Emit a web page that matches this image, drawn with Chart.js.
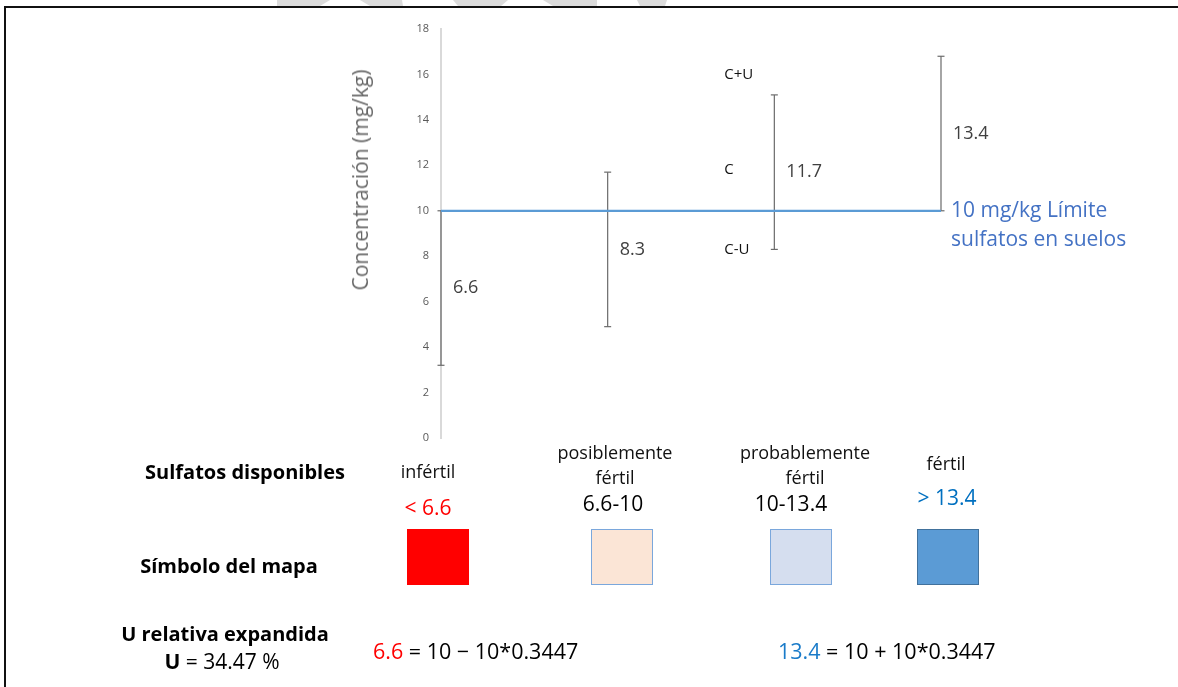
<!DOCTYPE html>
<html>
<head>
<meta charset="utf-8">
<script src="https://cdn.jsdelivr.net/npm/chart.js@4.4.1/dist/chart.umd.min.js"></script>
<style>
  body { margin: 0; background: #fff; font-family: "Open Sans", sans-serif; }
  #hoja { position: relative; width: 1178px; height: 687px; overflow: hidden; }
  #grafico { position: absolute; left: 0; top: 0; }
  #marco { position: absolute; left: 4px; top: 6px; width: 1200px; height: 700px;
           border-top: 2px solid #111; border-left: 2px solid #111; }
  .t { position: absolute; transform: translate(-50%, -50%); white-space: nowrap;
       text-align: center; color: #000; line-height: 25px; }
  .b { font-weight: 700; font-size: 20px; }
  .cat { font-size: 18px; color: #111; }
  .rng { font-size: 21px; }
  .sq { position: absolute; width: 62px; height: 56px; box-sizing: border-box; }
  .f { position: absolute; transform: translateY(-50%); font-size: 21.5px; white-space: nowrap; }
  #tituloY { position: absolute; left: 360px; top: 180px; transform: translate(-50%, -50%) rotate(-90deg);
             font-size: 21px; color: #666; white-space: nowrap; }
</style>
</head>
<body>
<div id="hoja">
  <svg width="1178" height="8" style="position:absolute;left:0;top:0">
    <polygon points="277,0 330,0 320,6 277,6" fill="#dcdcdc"/>
    <polygon points="360,0 402,0 403,6 370,6" fill="#dcdcdc"/>
    <polygon points="453,0 508,0 501,6 458,6" fill="#dcdcdc"/>
    <polygon points="543,0 597,0 597,6 553,6" fill="#dcdcdc"/>
    <polygon points="637,0 667,0 665,6 640,6" fill="#dcdcdc"/>
  </svg>
  <div id="marco"></div>
  <canvas id="grafico" width="1178" height="687"></canvas>
  <div id="tituloY">Concentración (mg/kg)</div>
  <div id="tabla"></div>
</div>
<script>
// datos
const categorias = ['infértil', 'posiblemente<br>fértil', 'probablemente<br>fértil', 'fértil'];
const rangos = ['< 6.6', '6.6-10', '10-13.4', '> 13.4'];
const concentracion = [6.6, 8.3, 11.7, 13.4];
const limiteInferior = [3.2, 4.9, 8.3, 10.0];
const limiteSuperior = [10.0, 11.7, 15.1, 16.8];
const limite = 10;
const ticksY = [0, 2, 4, 6, 8, 10, 12, 14, 16, 18];
const etiquetasCU = ['C+U', 'C', 'C-U'];
const valoresCU = [16, 11.8, 8.3];
const posicionCU = 1.7;

// estilo de la tabla inferior
const xCat = [428, 615, 805, 946];
const yCat = [471, 465, 465, 463];
const xRango = [428, 613, 791, 947];
const yRango = [507, 503, 503, 497];
const colorRango = ['#ff0000', '#000', '#000', '#0070c0'];
const xCuadro = [407, 591, 770, 917];
const rellenoCuadro = ['#ff0000', '#fbe5d6', '#d5deef', '#5b9bd5'];
const bordeCuadro = ['#ff0000', '#7aa7dc', '#7aa7dc', '#41719c'];

let html = '';
html += '<div class="t b" style="left:245px;top:471px">Sulfatos disponibles</div>';
html += '<div class="t b" style="left:229px;top:565px">Símbolo del mapa</div>';
html += '<div class="t b" style="left:225px;top:633px">U relativa expandida</div>';
html += '<div class="t" style="left:222px;top:661px;font-size:21px"><b>U</b> = 34.47 %</div>';
categorias.forEach((c, i) => {
  html += `<div class="t cat" style="left:${xCat[i]}px;top:${yCat[i]}px">${c}</div>`;
  html += `<div class="t rng" style="left:${xRango[i]}px;top:${yRango[i]}px;color:${colorRango[i]}">${rangos[i].replace('<', '&lt;')}</div>`;
  html += `<div class="sq" style="left:${xCuadro[i]}px;top:529px;background:${rellenoCuadro[i]};border:1.5px solid ${bordeCuadro[i]}"></div>`;
});
html += '<div class="f" style="left:373px;top:650px"><span style="color:#ff0000">6.6</span> = 10 − 10*0.3447</div>';
html += '<div class="f" style="left:778px;top:650px"><span style="color:#1a7bc9">13.4</span> = 10 + 10*0.3447</div>';
document.getElementById('tabla').innerHTML = html;

// barras de error: un tramo por categoria, separados con null
const barras = [];
concentracion.forEach((c, i) => {
  barras.push({ x: i, y: limiteInferior[i] }, { x: i, y: limiteSuperior[i] }, { x: i, y: null });
});

const etiquetas = {
  id: 'etiquetas',
  afterDatasetsDraw(chart) {
    const ctx = chart.ctx;
    const xs = chart.scales.x, ys = chart.scales.y;
    ctx.save();
    ctx.textBaseline = 'middle';
    ctx.textAlign = 'left';
    ctx.font = '18px "Open Sans"';
    ctx.fillStyle = '#404040';
    concentracion.forEach((c, i) => {
      ctx.fillText(String(c), xs.getPixelForValue(i) + 12, ys.getPixelForValue(c));
    });
    ctx.font = '15px "Open Sans"';
    ctx.fillStyle = '#111';
    etiquetasCU.forEach((t, i) => {
      ctx.fillText(t, xs.getPixelForValue(posicionCU), ys.getPixelForValue(valoresCU[i]));
    });
    ctx.font = '21px "Open Sans"';
    ctx.fillStyle = '#4472c4';
    const xl = xs.getPixelForValue(categorias.length - 1) + 10;
    const yl = ys.getPixelForValue(limite);
    ctx.fillText(limite + ' mg/kg Límite', xl, yl);
    ctx.fillText('sulfatos en suelos', xl, yl + 29);
    ctx.restore();
  }
};

new Chart(document.getElementById('grafico'), {
  type: 'scatter',
  data: {
    datasets: [
      {
        data: [{ x: 0, y: limite }, { x: categorias.length - 1, y: limite }],
        showLine: true, borderColor: '#5b9bd5', borderWidth: 2.2, pointRadius: 0
      },
      {
        data: barras,
        showLine: true, spanGaps: false, clip: false,
        borderColor: '#6b6b6b', borderWidth: 1.2,
        pointStyle: 'line', pointRadius: 3.5, pointBorderColor: '#6b6b6b', pointBorderWidth: 1.2
      }
    ]
  },
  options: {
    responsive: false,
    animation: false,
    layout: { padding: { left: 345, top: 29, right: 137, bottom: 249 } },
    plugins: { legend: { display: false }, tooltip: { enabled: false } },
    scales: {
      x: { type: 'linear', min: 0, max: 3.6, display: false },
      y: {
        min: 0, max: 18,
        afterBuildTicks: s => { s.ticks = ticksY.map(v => ({ value: v })); },
        afterFit: s => { s.width = 96; },
        ticks: { padding: 12, color: '#595959', font: { family: 'Open Sans', size: 11 } },
        grid: { display: false, drawTicks: false },
        border: { display: true, color: '#d9d9d9', width: 2 }
      }
    }
  },
  plugins: [etiquetas]
});
</script>
</body>
</html>
